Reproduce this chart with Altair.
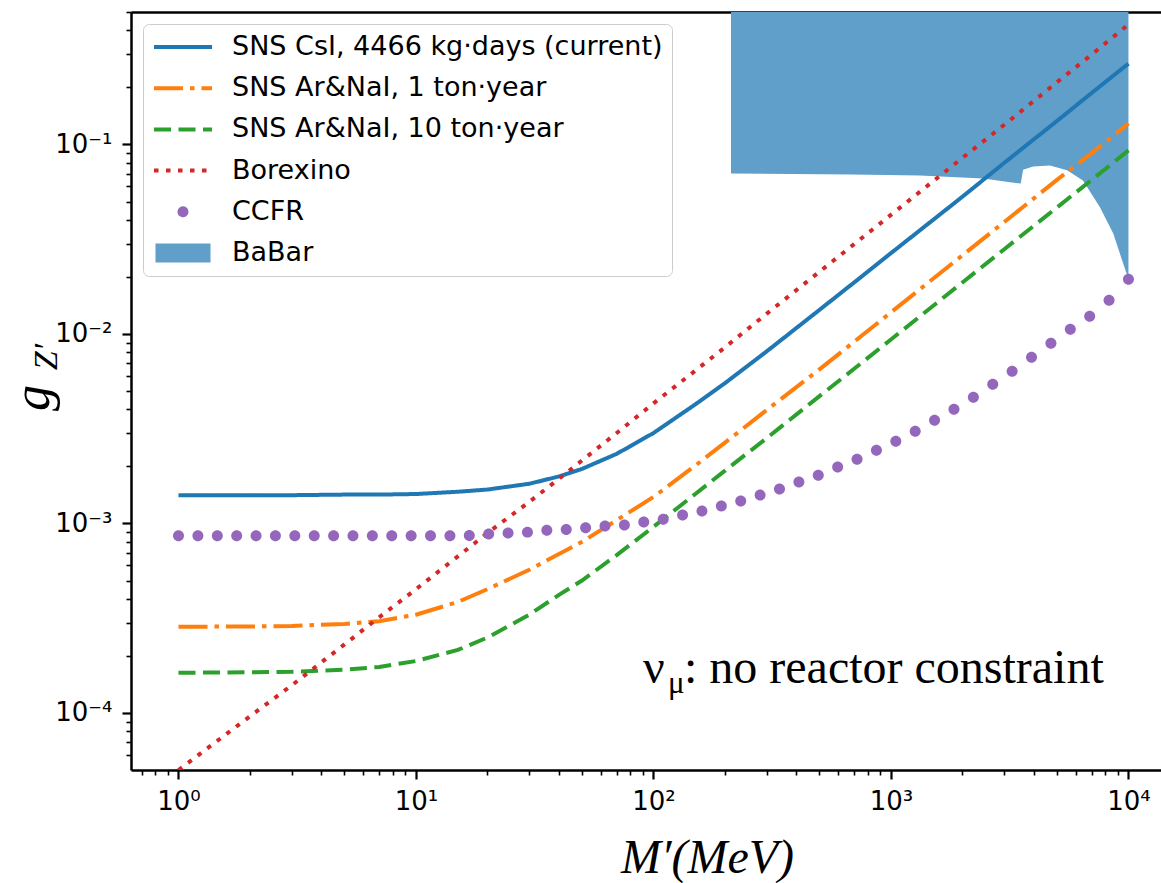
import altair as alt
import pandas as pd

# ---------------- data ----------------
series = ["SNS CsI, 4466 kg·days (current)", "SNS Ar&NaI, 1 ton·year",
          "SNS Ar&NaI, 10 ton·year", "Borexino", "CCFR", "BaBar"]

mass = [1, 2, 3, 5, 7, 10, 15, 20, 30, 40, 50, 70, 100, 150, 200, 300, 500,
        700, 1000, 2000, 3000, 5000, 7000, 10000]
g_csi = [1.41e-3, 1.41e-3, 1.41e-3, 1.42e-3, 1.42e-3, 1.43e-3, 1.47e-3, 1.51e-3,
         1.62e-3, 1.77e-3, 1.94e-3, 2.33e-3, 3.0e-3, 4.25e-3, 5.5e-3, 8.1e-3,
         1.34e-2, 1.87e-2, 2.67e-2, 5.3e-2, 8.0e-2, 0.133, 0.187, 0.267]
g_ar1 = [2.85e-4, 2.86e-4, 2.88e-4, 2.95e-4, 3.05e-4, 3.3e-4, 3.85e-4, 4.5e-4,
         5.7e-4, 6.9e-4, 8.0e-4, 1.04e-3, 1.38e-3, 2.02e-3, 2.67e-3, 3.97e-3,
         6.5e-3, 9.1e-3, 1.3e-2, 2.6e-2, 3.9e-2, 6.5e-2, 9.0e-2, 0.129]
g_ar10 = [1.63e-4, 1.64e-4, 1.65e-4, 1.69e-4, 1.75e-4, 1.88e-4, 2.15e-4, 2.5e-4,
          3.3e-4, 4.2e-4, 5.0e-4, 6.8e-4, 9.6e-4, 1.43e-3, 1.9e-3, 2.82e-3,
          4.7e-3, 6.55e-3, 9.35e-3, 1.87e-2, 2.8e-2, 4.65e-2, 6.5e-2, 0.093]
g_borexino = [5.0e-5, 9.6e-5, 1.4e-4, 2.3e-4, 3.2e-4, 4.5e-4, 6.7e-4, 8.9e-4,
              1.3e-3, 1.72e-3, 2.15e-3, 3.0e-3, 4.3e-3, 6.4e-3, 8.5e-3, 1.28e-2,
              2.13e-2, 2.98e-2, 4.25e-2, 8.5e-2, 0.127, 0.213, 0.298, 0.43]

ccfr_mass = [1.0, 1.207, 1.457, 1.758, 2.121, 2.559, 3.089, 3.728, 4.499, 5.429,
             6.551, 7.906, 9.541, 11.51, 13.90, 16.77, 20.24, 24.42, 29.47, 35.56,
             42.92, 51.79, 62.51, 75.43, 91.03, 109.9, 132.6, 160.0, 193.1, 233.0,
             281.2, 339.3, 409.5, 494.2, 596.4, 719.7, 868.5, 1048, 1265, 1526,
             1842, 2223, 2683, 3237, 3907, 4715, 5690, 6866, 8286, 10000]
ccfr_g = [8.6e-4, 8.6e-4, 8.6e-4, 8.6e-4, 8.6e-4, 8.6e-4, 8.6e-4, 8.6e-4, 8.6e-4,
          8.6e-4, 8.6e-4, 8.6e-4, 8.6e-4, 8.6e-4, 8.6e-4, 8.65e-4, 8.8e-4, 8.9e-4,
          9.0e-4, 9.2e-4, 9.3e-4, 9.5e-4, 9.7e-4, 9.8e-4, 1.017e-3, 1.054e-3,
          1.107e-3, 1.163e-3, 1.235e-3, 1.312e-3, 1.411e-3, 1.518e-3, 1.653e-3,
          1.799e-3, 1.983e-3, 2.185e-3, 2.437e-3, 2.719e-3, 3.069e-3, 3.508e-3,
          4.009e-3, 4.638e-3, 5.43e-3, 6.358e-3, 7.535e-3, 8.93e-3, 1.058e-2,
          1.239e-2, 1.505e-2, 1.943e-2]

babar_mass = [212, 686, 1325, 2443, 3176, 3520, 3600, 3966, 4673, 5513, 6433,
              7586, 8630, 9400, 10000]
babar_low = [0.0703, 0.0695, 0.0686, 0.0662, 0.0631, 0.0623, 0.0735, 0.0766,
             0.0775, 0.0730, 0.0646, 0.0466, 0.0339, 0.0245, 0.0195]
babar_top = [0.6] * len(babar_mass)

x_major = [1, 10, 100, 1000, 10000]
x_minor = [0.7, 0.8, 0.9] + [m * 10 ** k for k in range(4) for m in range(2, 10)]
y_major = [1e-4, 1e-3, 1e-2, 1e-1]
y_minor = [m * 1e-5 for m in range(6, 10)] + [m * 10.0 ** k for k in (-4, -3, -2) for m in range(2, 10)] \
          + [m * 0.1 for m in range(2, 6)]

# ---------------- frames ----------------
line_series = series[:4]
df_lines = pd.concat([
    pd.DataFrame({"M": mass, "g": vals, "series": name})
    for name, vals in zip(line_series, [g_csi, g_ar1, g_ar10, g_borexino])
])
df_ccfr = pd.DataFrame({"M": ccfr_mass, "g": ccfr_g, "series": "CCFR"})
df_babar = pd.DataFrame({"M": babar_mass, "g": babar_low, "g_top": babar_top, "series": "BaBar"})

# ---------------- styles ----------------
stroke_colors = ["#1f77b4", "#ff7f0e", "#2ca02c", "#d62728", "#9467bd", "#619fcb"]
fill_colors = ["transparent", "transparent", "transparent", "transparent", "#9467bd", "#619fcb"]
dashes = [[1, 0], [29, 7, 4.5, 7], [17, 7.5], [4.5, 7.5], [1, 0], [1, 0]]
LINE = "M-1,0H1"
CIRCLE = "M0.12,0A0.12,0.12,0,1,1,-0.12,0A0.12,0.12,0,1,1,0.12,0Z"
SQUARE = "M-0.88,-0.26H0.88V0.26H-0.88Z"
shapes = [LINE, LINE, LINE, LINE, CIRCLE, SQUARE]

xs = alt.Scale(type="log", domain=[0.631, 13710], nice=False)
ys = alt.Scale(type="log", domain=[5e-5, 0.5], nice=False)

x_axis = alt.Axis(orient="bottom", values=x_major, grid=False,
                  labelExpr="'10' + ['⁰','¹','²','³','⁴'][round(log(datum.value)/LN10)]",
                  labelFont="DejaVu Sans", labelFontSize=26, labelColor="black",
                  labelPadding=9, labelFlush=False, labelOverlap=False,
                  tickSize=9, tickWidth=2.2, tickColor="black",
                  domainColor="black", domainWidth=2.5,
                  title="M′(MeV)", titleFont="Liberation Serif", titleFontStyle="italic",
                  titleFontWeight="normal", titleFontSize=48, titleColor="black",
                  titleAlign="center", titleBaseline="alphabetic", titleX=576, titleY=102)
y_axis = alt.Axis(orient="left", values=y_major, grid=False,
                  labelExpr="'10' + ['⁻⁴','⁻³','⁻²','⁻¹'][round(log(datum.value)/LN10)+4]",
                  labelFont="DejaVu Sans", labelFontSize=26, labelColor="black",
                  labelPadding=10, labelFlush=False, labelOverlap=False,
                  tickSize=9, tickWidth=2.2, tickColor="black",
                  domainColor="black", domainWidth=2.5, title=None)

X = alt.X("M:Q", scale=xs, axis=x_axis)
Y = alt.Y("g:Q", scale=ys, axis=y_axis)

legend = alt.Legend(title=None, orient="top-left", offset=12, padding=9,
                    fillColor="rgba(255,255,255,0.8)", strokeColor="#cccccc",
                    cornerRadius=6, labelFont="DejaVu Sans", labelFontSize=27,
                    labelColor="black", labelLimit=0, labelOffset=18,
                    symbolSize=3364, symbolStrokeWidth=4, symbolOpacity=1,
                    clipHeight=28, rowPadding=13.2)

stroke_enc = alt.Stroke("series:N", scale=alt.Scale(domain=series, range=stroke_colors), legend=legend)
fill_enc = alt.Fill("series:N", scale=alt.Scale(domain=series, range=fill_colors), legend=legend)
dash_enc = alt.StrokeDash("series:N", scale=alt.Scale(domain=series, range=dashes), legend=legend)
shape_enc = alt.Shape("series:N", scale=alt.Scale(domain=series, range=shapes), legend=legend)

babar = alt.Chart(df_babar).mark_area(clip=True, opacity=1).encode(
    x=X, y=Y, y2="g_top:Q", fill=fill_enc)

lines = alt.Chart(df_lines).mark_line(clip=True, strokeWidth=4).encode(
    x=X, y=Y, stroke=stroke_enc, strokeDash=dash_enc)

ccfr = alt.Chart(df_ccfr).mark_point(filled=True, opacity=1, size=8400, strokeWidth=0, clip=True).encode(
    x=X, y=Y, fill=fill_enc, shape=shape_enc)

# annotation  "ν_μ: no reactor constraint"
ann = pd.DataFrame({"M": [90.3], "g": [1.44e-4]})
ann_font = dict(font="Liberation Serif", color="black", align="left", baseline="alphabetic")
ann1 = alt.Chart(ann).mark_text(text="ν", fontSize=48, **ann_font).encode(x=X, y=Y)
ann2 = alt.Chart(ann).mark_text(text="μ", fontSize=31, dx=25, dy=10, **ann_font).encode(x=X, y=Y)
ann3 = alt.Chart(ann).mark_text(text=": no reactor constraint", fontSize=48, dx=41, **ann_font).encode(x=X, y=Y)

# y-axis title  g_Z′
ttl = pd.DataFrame({"t": ["g"]})
ytitle1 = alt.Chart(ttl).mark_text(text="g", font="Liberation Serif", fontStyle="italic",
                                   fontSize=52, angle=270, align="center", baseline="alphabetic",
                                   color="black").encode(x=alt.value(-82), y=alt.value(386))
ytitle2 = alt.Chart(ttl).mark_text(text="Z′", font="Liberation Serif", fontStyle="italic",
                                   fontSize=34, angle=270, align="center", baseline="alphabetic",
                                   color="black").encode(x=alt.value(-74), y=alt.value(345))

data_group = alt.layer(babar, lines, ccfr, ann1, ann2, ann3, ytitle1, ytitle2)

# minor ticks and top spine
minor = alt.Chart(df_ccfr).mark_point(opacity=0).encode(
    x=alt.X("M:Q", scale=xs, axis=alt.Axis(orient="bottom", values=x_minor, labels=False,
                                           tickSize=5, tickWidth=1.6, tickColor="black",
                                           domain=False, grid=False, title=None)),
    y=alt.Y("g:Q", scale=ys, axis=alt.Axis(orient="left", values=y_minor, labels=False,
                                           tickSize=5, tickWidth=1.6, tickColor="black",
                                           domain=False, grid=False, title=None)))
top = alt.Chart(df_ccfr).mark_point(opacity=0).encode(
    x=alt.X("M:Q", scale=xs, axis=alt.Axis(orient="top", labels=False, ticks=False,
                                           domainColor="black", domainWidth=2.5,
                                           grid=False, title=None)),
    y=alt.Y("g:Q", scale=ys, axis=None))

chart = alt.layer(data_group, minor, top).resolve_scale(
    x="independent", y="independent"
).properties(
    width=1030, height=758,
    padding={"left": 131, "top": 12, "right": 0, "bottom": 113},
    autosize=alt.AutoSizeParams(type="none"),
    background="white",
).configure_view(stroke=None)

chart.save("out.html", embed_options={"renderer": "svg", "actions": False})
